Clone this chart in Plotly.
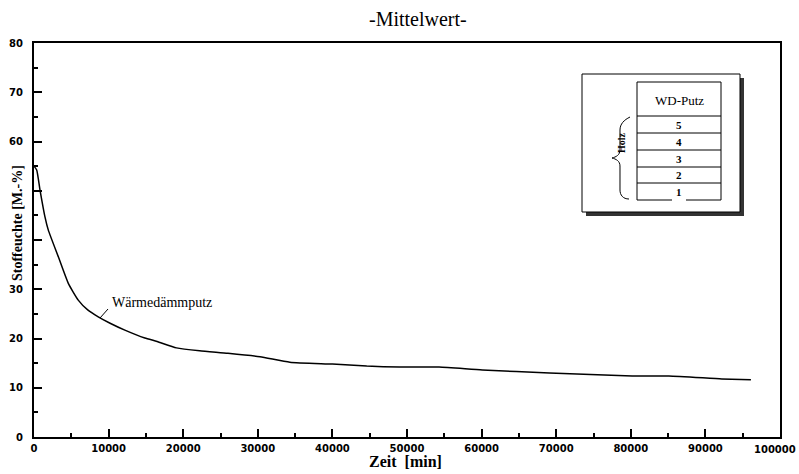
import plotly.graph_objects as go

# ---- data ----
zeit_min = [0, 360, 800, 1470, 1920, 3260, 4600, 5930, 7200, 8610, 10200, 12180, 14860,
            16500, 19100, 22200, 26000, 30300, 34300, 40000, 44600, 49000, 54300, 60100,
            69100, 80200, 85100, 92200, 96100]
feuchte = [55.0, 54.2, 50.2, 44.7, 42.0, 36.6, 31.2, 27.8, 25.8, 24.4, 23.1, 21.7, 20.1,
           19.4, 18.1, 17.5, 17.0, 16.3, 15.2, 14.8, 14.4, 14.2, 14.2, 13.6,
           13.0, 12.4, 12.4, 11.8, 11.6]
x_ticks = [0, 10000, 20000, 30000, 40000, 50000, 60000, 70000, 80000, 90000, 100000]
x_ticktext = ["0", "10000", "20000", "30000", "40000", "50000", "60000", "70000",
              "80000", "90000", ""]
x_last_label = "100000"   # drawn right-aligned so it stays inside the page
y_ticks = [0, 10, 20, 30, 40, 50, 60, 70, 80]
y_ticktext = ["0", "10", "20", "30", "", "", "60", "70", "80"]
legend_rows = ["5", "4", "3", "2", "1"]

W, H = 799, 474
L, R, T, B = 34, 780, 43, 437

def px(x):
    return (x - L) / (R - L)

def py(y):
    return (B - y) / (B - T)

SERIF = "Liberation Serif"

fig = go.Figure()
fig.add_trace(go.Scatter(x=zeit_min, y=feuchte, mode="lines",
                         line=dict(color="black", width=1.5, shape="spline", smoothing=0.5),
                         showlegend=False, hoverinfo="skip"))

tickfont = dict(family="DejaVu Sans", size=10, color="black", weight="bold")
fig.update_xaxes(range=[0, 100000], tickvals=x_ticks, ticktext=x_ticktext,
                 ticks="inside", ticklen=8, tickwidth=1.5, tickcolor="black",
                 minor=dict(ticks="inside", ticklen=4, dtick=5000, tick0=0,
                            tickcolor="black", tickwidth=1.5),
                 showline=True, linewidth=2, linecolor="black", mirror=True,
                 showgrid=False, zeroline=False, tickfont=tickfont,
                 automargin=False, ticklabelstandoff=1, ticklabeloverflow="allow")
fig.update_yaxes(range=[0, 80], tickvals=y_ticks, ticktext=y_ticktext,
                 ticks="inside", ticklen=8, tickwidth=1.5, tickcolor="black",
                 minor=dict(ticks="inside", ticklen=4, dtick=5, tick0=0,
                            tickcolor="black", tickwidth=1.5),
                 showline=True, linewidth=2, linecolor="black", mirror=True,
                 showgrid=False, zeroline=False, tickfont=tickfont,
                 automargin=False, ticklabelstandoff=7, ticklabeloverflow="allow")

shapes = []
ann = []

def text(x, y, s, size, xanchor="center", angle=0, family=SERIF):
    ann.append(dict(x=px(x), y=py(y), xref="paper", yref="paper", text=s,
                    xanchor=xanchor, yanchor="middle", textangle=angle,
                    showarrow=False, font=dict(family=family, size=size, color="black")))

def line(x0, y0, x1, y1, w=1):
    shapes.append(dict(type="line", xref="paper", yref="paper", x0=px(x0), y0=py(y0),
                       x1=px(x1), y1=py(y1), line=dict(color="black", width=w)))

# last x tick label, kept inside the page
text(798, 449, "<b>" + x_last_label + "</b>", 10, xanchor="right", family="DejaVu Sans")

# titles
text(418, 19, "-Mittelwert-", 20)
text(405, 461, "<b>Zeit  [min]</b>", 16)
text(17, 223, "<b>Stoffeuchte [M.-%]</b>", 14, angle=-90)

# curve label with leader
text(110, 302, "Wärmedämmputz", 14, xanchor="left")
line(100, 318, 108, 309)

# legend box: shadow + box
shapes.append(dict(type="rect", xref="paper", yref="paper", x0=px(586), x1=px(744),
                   y0=py(216), y1=py(78), fillcolor="#333", line=dict(width=0)))
shapes.append(dict(type="rect", xref="paper", yref="paper", x0=px(582), x1=px(740),
                   y0=py(212), y1=py(74), fillcolor="white", line=dict(color="black", width=1)))

tl, tr = 637, 721
row_y = [82, 116, 133, 150, 167, 183, 200]
line(tl, row_y[0], tl, row_y[-1])
line(tr, row_y[0], tr, row_y[-1])
for ry in row_y[:-1]:
    line(tl, ry, tr, ry)
# bottom line broken around the "1"
line(tl, row_y[-1], 672, row_y[-1])
line(686, row_y[-1], tr, row_y[-1])

text(679, 100, "WD-Putz", 13)
for i, lab in enumerate(legend_rows):
    yc = (row_y[i + 1] + row_y[i + 2]) / 2
    text(679, yc, "<b>" + lab + "</b>", 11)

# curly brace for "Holz"
def P(x, y):
    return f"{px(x):.5f},{py(y):.5f}"
brace = (f"M {P(630,117)} C {P(624,120)} {P(620,124)} {P(620,130)} "
         f"L {P(620,150)} C {P(620,155)} {P(616,157)} {P(612,158)} "
         f"C {P(616,159)} {P(620,161)} {P(620,166)} "
         f"L {P(620,190)} C {P(620,195)} {P(623,199)} {P(629,199)}")
shapes.append(dict(type="path", xref="paper", yref="paper", path=brace,
                   line=dict(color="black", width=1)))
text(621, 143, "<b>Holz</b>", 10, angle=-90)

fig.update_layout(width=W, height=H, margin=dict(l=L, r=W - R, t=T, b=H - B),
                  paper_bgcolor="white", plot_bgcolor="white",
                  shapes=shapes, annotations=ann, showlegend=False)
fig.write_html("out.html", config={"displayModeBar": False},
               post_script="document.body.style.margin='0';document.body.style.padding='0';")
